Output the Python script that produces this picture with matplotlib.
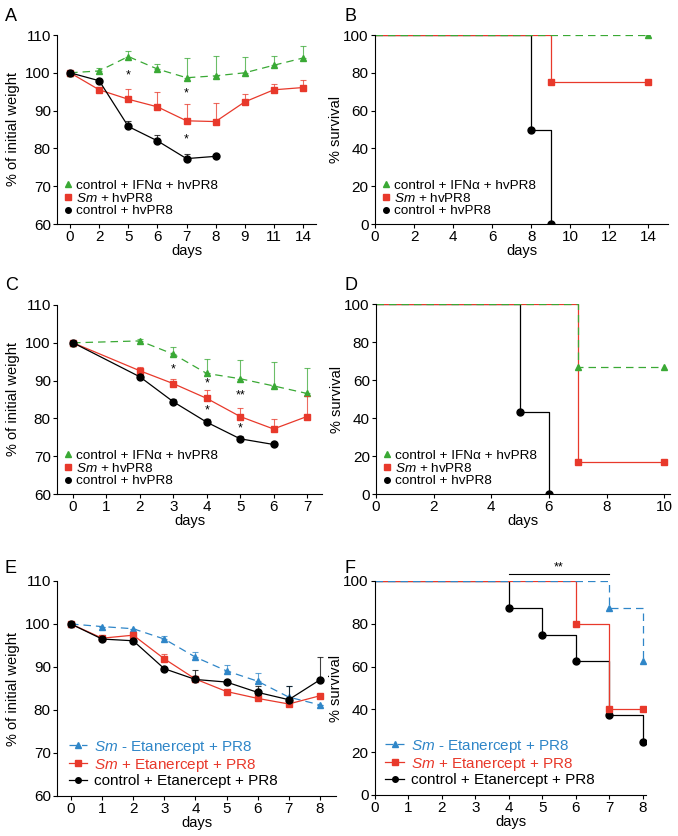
import numpy as np
import matplotlib
matplotlib.use('Agg')
import matplotlib.pyplot as plt
from matplotlib.lines import Line2D

plt.rcParams['font.family'] = ['Liberation Sans', 'DejaVu Sans']
plt.rcParams['mathtext.fontset'] = 'custom'
plt.rcParams['mathtext.it'] = 'Liberation Sans:italic'
plt.rcParams['mathtext.rm'] = 'Liberation Sans'

GREEN = '#3aa935'
RED = '#e8392b'
BLACK = '#000000'
BLUE = '#2f86c8'

# ---- panel A : weight, hvPR8 (categorical days)
a_days = ['0', '2', '5', '6', '7', '8', '9', '11', '14']
a_green = [100, 100.5, 104.3, 101.0, 98.7, 99.2, 100.0, 102.0, 103.9]
a_green_up = [100, 101.3, 105.7, 102.2, 103.9, 104.5, 104.1, 104.5, 107.0]
a_red = [100, 95.5, 93.0, 91.0, 87.3, 87.1, 92.3, 95.5, 96.1]
a_red_up = [100, 95.5, 95.8, 94.8, 91.7, 92.0, 94.3, 97.0, 98.1]
a_black = [100, 97.9, 85.8, 82.0, 77.3, 77.9]
a_black_up = [100, 97.9, 87.2, 83.6, 78.5, 77.9]
a_stars = [(2, 99.3, '*'), (4, 94.5, '*'), (4, 82.5, '*')]

# ---- panel B : survival
b_green_t = [0, 14]; b_green_s = [100, 100]
b_red_t = [0, 9, 14]; b_red_s = [100, 75, 75]
b_black_t = [0, 8, 9]; b_black_s = [100, 50, 0]

# ---- panel C : weight, second experiment
c_days = [0, 2, 3, 4, 5, 6, 7]
c_green = [100, 100.5, 97.0, 91.9, 90.5, 88.6, 86.6]
c_green_up = [100, 101.1, 98.8, 95.6, 95.4, 94.8, 93.3]
c_red = [100, 92.6, 89.2, 85.3, 80.5, 77.2, 80.5]
c_red_up = [100, 93.5, 90.5, 87.4, 82.8, 79.8, 86.0]
c_black_days = [0, 2, 3, 4, 5, 6]
c_black = [100, 91.0, 84.4, 79.0, 74.6, 73.1]
c_black_up = [100, 91.0, 85.2, 79.8, 75.4, 73.8]
c_stars = [(3, 93.0, '*'), (4, 89.3, '*'), (4, 82.1, '*'), (5, 86.0, '**'), (5, 77.4, '*')]

# ---- panel D : survival
d_green_t = [0, 7, 10]; d_green_s = [100, 66.7, 66.7]
d_red_t = [0, 7, 10]; d_red_s = [100, 16.7, 16.7]
d_black_t = [0, 5, 6]; d_black_s = [100, 42.9, 0]

# ---- panel E : weight, Etanercept
e_days = [0, 1, 2, 3, 4, 5, 6, 7, 8]
e_blue = [100, 99.4, 98.9, 96.5, 92.3, 89.1, 86.7, 83.0, 81.2]
e_blue_up = [100, 99.4, 98.9, 97.3, 93.6, 90.5, 88.5, 85.5, 81.2]
e_red = [100, 96.7, 97.4, 91.9, 87.2, 84.3, 82.7, 81.4, 83.3]
e_red_up = [100, 96.7, 97.4, 93.0, 88.0, 84.3, 82.7, 81.4, 83.3]
e_black = [100, 96.5, 96.1, 89.6, 87.1, 86.5, 84.1, 82.4, 87.0]
e_black_up = [100, 96.5, 96.1, 89.6, 89.4, 86.5, 85.5, 85.5, 92.4]

# ---- panel F : survival
f_blue_t = [0, 7, 8]; f_blue_s = [100, 87.5, 62.5]
f_red_t = [0, 6, 7, 8]; f_red_s = [100, 80, 40, 40]
f_black_t = [0, 4, 5, 6, 7, 8]; f_black_s = [100, 87.5, 75, 62.5, 37.5, 25]

lab_ifn = 'control + IFN\u03b1 + hvPR8'
lab_sm = r'$\it{Sm}$ + hvPR8'
lab_ctl = 'control + hvPR8'

DASH = (0, (6, 4))
FS = 11


def style(ax):
    for s in ['top', 'right']:
        ax.spines[s].set_visible(False)
    for s in ['left', 'bottom']:
        ax.spines[s].set_linewidth(0.8)
    ax.tick_params(direction='out', length=3, width=0.8, labelsize=FS, pad=1.5)


def weight(ax, x, y, up, color, marker, ls='-', ms=5):
    y = np.array(y); up = np.array(up)
    ax.errorbar(x, y, yerr=[np.zeros_like(y), up - y], fmt='none', ecolor=color,
                elinewidth=0.8, capsize=2.5, capthick=0.8, alpha=0.75)
    ax.plot(x, y, color=color, ls=ls, lw=0.9, marker=marker, ms=ms, mec=color, mfc=color)


def km(ax, t, s, color, marker, ls='-', ms=5):
    ax.step(t, s, where='post', color=color, ls=ls, lw=0.9)
    ax.plot(t[1:], s[1:], ls='none', marker=marker, ms=ms, color=color)


def legend_abcd(ax):
    h = [Line2D([], [], ls='none', marker='^', color=GREEN, ms=4),
         Line2D([], [], ls='none', marker='s', color=RED, ms=4),
         Line2D([], [], ls='none', marker='o', color=BLACK, ms=4)]
    ax.legend(h, [lab_ifn, lab_sm, lab_ctl], loc='lower left', frameon=False,
              fontsize=9.7, handlelength=0.6, handletextpad=0.3, labelspacing=0.0,
              borderaxespad=0.1, bbox_to_anchor=(0.0, 0.0))


fig = plt.figure(figsize=(6.78, 8.36), dpi=100)
W, H = 678.0, 836.0


def axes_px(l, t, r, b):
    return fig.add_axes([l / W, 1 - b / H, (r - l) / W, (b - t) / H])


# A
ax = axes_px(57, 35, 316, 224)
xa = np.arange(len(a_days))
weight(ax, xa, a_green, a_green_up, GREEN, '^', ls=DASH)
weight(ax, xa, a_red, a_red_up, RED, 's')
weight(ax, xa[:len(a_black)], a_black, a_black_up, BLACK, 'o')
for x, y, t in a_stars:
    ax.text(x, y, t, ha='center', va='center', fontsize=9)
ax.set_xlim(-0.45, 8.45)
ax.set_ylim(60, 110)
ax.set_xticks(xa)
ax.set_xticklabels(a_days)
ax.set_yticks(range(60, 111, 10))
ax.set_xlabel('days', fontsize=10.5, labelpad=0)
ax.set_ylabel('% of initial weight', fontsize=10.5)
legend_abcd(ax)
style(ax)

# B
ax = axes_px(375, 35, 668, 224)
km(ax, b_black_t, b_black_s, BLACK, 'o')
km(ax, b_red_t, b_red_s, RED, 's')
km(ax, b_green_t, b_green_s, GREEN, '^', ls=DASH)
ax.set_xlim(0, 15)
ax.set_ylim(0, 100)
ax.set_xticks(range(0, 15, 2))
ax.set_yticks(range(0, 101, 20))
ax.set_xlabel('days', fontsize=10.5, labelpad=0)
ax.set_ylabel('% survival', fontsize=10.5, labelpad=0)
legend_abcd(ax)
style(ax)

# C
ax = axes_px(57, 305, 322, 494)
weight(ax, c_days, c_green, c_green_up, GREEN, '^', ls=DASH)
weight(ax, c_days, c_red, c_red_up, RED, 's')
weight(ax, c_black_days, c_black, c_black_up, BLACK, 'o')
for x, y, t in c_stars:
    ax.text(x, y, t, ha='center', va='center', fontsize=9)
ax.set_xlim(-0.48, 7.45)
ax.set_ylim(60, 110)
ax.set_xticks(range(0, 8))
ax.set_yticks(range(60, 111, 10))
ax.set_xlabel('days', fontsize=10.5, labelpad=0)
ax.set_ylabel('% of initial weight', fontsize=10.5)
legend_abcd(ax)
style(ax)

# D
ax = axes_px(376, 304, 670, 494)
km(ax, d_black_t, d_black_s, BLACK, 'o')
km(ax, d_red_t, d_red_s, RED, 's')
km(ax, d_green_t, d_green_s, GREEN, '^', ls=DASH)
ax.set_xlim(0, 10.2)
ax.set_ylim(0, 100)
ax.set_xticks(range(0, 11, 2))
ax.set_yticks(range(0, 101, 20))
ax.set_xlabel('days', fontsize=10.5, labelpad=0)
ax.set_ylabel('% survival', fontsize=10.5, labelpad=0)
legend_abcd(ax)
style(ax)

lab_e = [r'$\it{Sm}$ - Etanercept + PR8', r'$\it{Sm}$ + Etanercept + PR8',
         'control + Etanercept + PR8']


def legend_ef(ax, x0):
    h = [Line2D([], [], ls=DASH, lw=0.9, marker='^', color=BLUE, ms=4),
         Line2D([], [], ls='-', lw=0.9, marker='s', color=RED, ms=4),
         Line2D([], [], ls='-', lw=0.9, marker='o', color=BLACK, ms=4)]
    leg = ax.legend(h, lab_e, loc='lower left', frameon=False, fontsize=11,
                    handlelength=1.2, handletextpad=0.45, labelspacing=0.05,
                    borderaxespad=0.1, bbox_to_anchor=(x0, 0.0))
    for txt, c in zip(leg.get_texts(), [BLUE, RED, BLACK]):
        txt.set_color(c)


# E
ax = axes_px(57, 581, 336, 796)
weight(ax, e_days, e_blue, e_blue_up, BLUE, '^', ls=DASH)
weight(ax, e_days, e_red, e_red_up, RED, 's')
weight(ax, e_days, e_black, e_black_up, BLACK, 'o')
ax.set_xlim(-0.45, 8.52)
ax.set_ylim(60, 110)
ax.set_xticks(e_days)
ax.set_yticks(range(60, 111, 10))
ax.set_xlabel('days', fontsize=10.5, labelpad=0)
ax.set_ylabel('% of initial weight', fontsize=10.5)
legend_ef(ax, 0.015)
style(ax)

# F
ax = axes_px(375, 581, 646, 795)
km(ax, f_black_t, f_black_s, BLACK, 'o')
km(ax, f_red_t, f_red_s, RED, 's')
km(ax, f_blue_t, f_blue_s, BLUE, '^', ls=DASH)
ax.plot([4, 7], [103.2, 103.2], color='k', lw=0.8, clip_on=False)
ax.text(5.5, 103.6, '**', ha='center', va='bottom', fontsize=9)
ax.set_xlim(0, 8.1)
ax.set_ylim(0, 100)
ax.set_xticks(range(0, 9))
ax.set_yticks(range(0, 101, 20))
ax.set_xlabel('days', fontsize=10.5, labelpad=0)
ax.set_ylabel('% survival', fontsize=10.5, labelpad=0)
legend_ef(ax, 0.01)
style(ax)

# panel letters
for letter, x, y in [('A', 5, 8), ('B', 345, 8), ('C', 5, 277), ('D', 345, 277),
                     ('E', 5, 560), ('F', 345, 560)]:
    fig.text(x / W, 1 - y / H, letter, fontsize=13, ha='left', va='top')

fig.savefig('out.png', dpi=100)
